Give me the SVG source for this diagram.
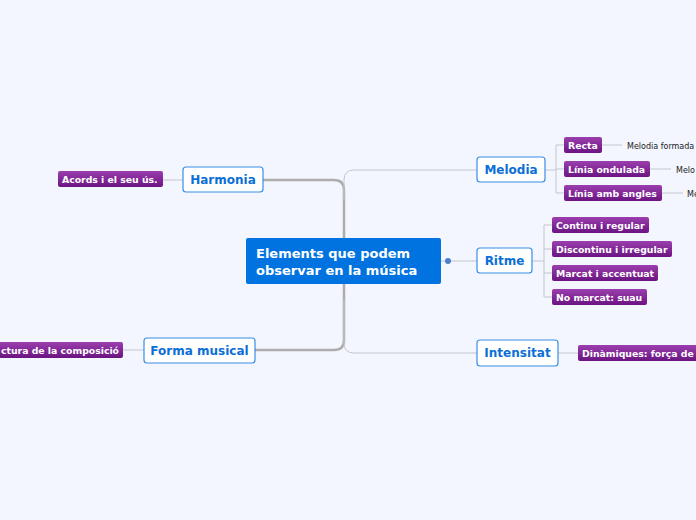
<svg xmlns="http://www.w3.org/2000/svg" width="696" height="520" viewBox="0 0 696 520">
<defs>
<linearGradient id="pg" x1="0" y1="0" x2="0" y2="1"><stop offset="0" stop-color="#9c3fae"/><stop offset="1" stop-color="#6a1482"/></linearGradient>
</defs>
<style>
.t{font-family:"DejaVu Sans",Verdana,sans-serif;font-weight:bold}
.main rect{fill:#fff;stroke:#3a8ee6;stroke-width:1.2}
.main text{fill:#0b6fd6;font-size:12px;text-anchor:middle}
.leaf rect{fill:url(#pg)}
.leaf text{fill:#fff;font-size:9.3px}
.note{font-family:"DejaVu Sans",Verdana,sans-serif;font-size:8px;fill:#222}
.c path{fill:none;stroke:#c4c6cc;stroke-width:1}
</style>
<rect width="696" height="520" fill="#f3f6fe"/>
<g class="c">
<path d="M344 238 V190 Q344 180 334 180 H263" style="stroke:#adadad;stroke-width:2.5"/>
<path d="M344 284 V340 Q344 350 334 350 H255" style="stroke:#adadad;stroke-width:2.5"/>
<path d="M344 200 V180 Q344 170 354 170 H477"/>
<path d="M344 300 V343 Q344 353 354 353 H477"/>
<path d="M441 261 H477"/>
<path d="M183 180 H163"/>
<path d="M144 350 H123"/>
<path d="M545 170 H556 M556 145 V193 M556 145 H564 M556 169 H564 M556 193 H564"/>
<path d="M532 261 H544 M544 225 V297 M544 225 H552 M544 249 H552 M544 273 H552 M544 297 H552"/>
<path d="M558 353 H578"/>
<path d="M602 145 H622 M650 169 H671 M662 193 H683"/>
</g>
<g id="central"><rect x="246" y="238" width="195" height="46" rx="2" fill="#0073e0"/>
<text class="t" x="256" y="258" font-size="13" fill="#fff">Elements que podem</text>
<text class="t" x="256" y="275" font-size="13" fill="#fff">observar en la música</text></g>
<circle cx="448" cy="261" r="3" fill="#4a7fc8"/>
<g id="harmonia" class="main"><rect x="183" y="167" width="80" height="25" rx="3"/><text class="t" x="223" y="184">Harmonia</text></g>
<g id="melodia" class="main"><rect x="477" y="157" width="68" height="25" rx="3"/><text class="t" x="511" y="174">Melodia</text></g>
<g id="ritme" class="main"><rect x="477" y="248" width="55" height="25" rx="3"/><text class="t" x="504.5" y="265">Ritme</text></g>
<g id="intensitat" class="main"><rect x="477" y="340" width="81" height="26" rx="3"/><text class="t" x="517.5" y="357">Intensitat</text></g>
<g id="forma" class="main"><rect x="144" y="338" width="111" height="25" rx="3"/><text class="t" x="199.5" y="355">Forma musical</text></g>
<g id="acords" class="leaf"><rect x="58" y="171" width="105" height="16" rx="2"/><text class="t" x="62" y="183">Acords i el seu ús.</text></g>
<g id="estructura" class="leaf"><rect x="-20" y="342" width="143" height="16" rx="2"/><text class="t" x="119" y="354" text-anchor="end">ctura de la composició</text></g>
<g id="recta" class="leaf"><rect x="564" y="137" width="38" height="16" rx="2"/><text class="t" x="568" y="149">Recta</text></g>
<g id="ondulada" class="leaf"><rect x="564" y="161" width="86" height="16" rx="2"/><text class="t" x="568" y="173">Línia ondulada</text></g>
<g id="angles" class="leaf"><rect x="564" y="185" width="98" height="16" rx="2"/><text class="t" x="568" y="197">Línia amb angles</text></g>
<g id="continu" class="leaf"><rect x="552" y="217" width="97" height="16" rx="2"/><text class="t" x="556" y="229">Continu i regular</text></g>
<g id="discontinu" class="leaf"><rect x="552" y="241" width="120" height="16" rx="2"/><text class="t" x="556" y="253">Discontinu i irregular</text></g>
<g id="marcat" class="leaf"><rect x="552" y="265" width="106" height="16" rx="2"/><text class="t" x="556" y="277">Marcat i accentuat</text></g>
<g id="nomarcat" class="leaf"><rect x="552" y="289" width="95" height="16" rx="2"/><text class="t" x="556" y="301">No marcat: suau</text></g>
<g id="dinamiques" class="leaf"><rect x="578" y="345" width="140" height="16" rx="2"/><text class="t" x="582" y="357">Dinàmiques: força de</text></g>
<text class="note" x="627" y="149">Melodia formada</text>
<text class="note" x="676" y="173">Melo</text>
<text class="note" x="687" y="197">Me</text>
</svg>
